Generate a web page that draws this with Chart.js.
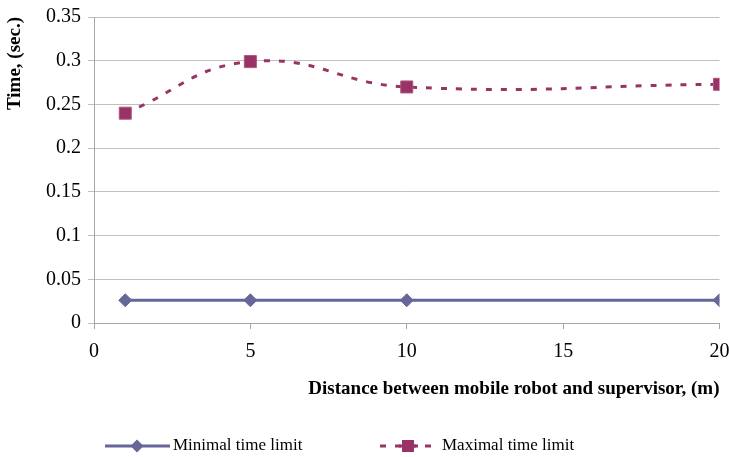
<!DOCTYPE html>
<html>
<head>
<meta charset="UTF-8">
<title>Time limits vs distance</title>
<script src="https://cdn.jsdelivr.net/npm/chart.js"></script>
<style>
  html, body { margin: 0; padding: 0; background: #fff; }
  #box { width: 729px; height: 457px; position: relative; }
</style>
</head>
<body>
<div id="box"><canvas id="grafico"></canvas></div>
<script>
// dados
const distancias = [1, 5, 10, 20];
const tempoMinimo = [0.026, 0.026, 0.026, 0.026];
const tempoMaximo = [0.24, 0.299, 0.27, 0.273];
const nomesSeries = ['Minimal time limit', 'Maximal time limit'];
const ticksX = [0, 5, 10, 15, 20];

const corMin = '#666699';
const corMax = '#993366';
const fonte = "'Liberation Serif', 'Times New Roman', serif";

function pontos(ys) {
  return distancias.map((x, i) => ({ x: x, y: ys[i] }));
}

// legenda desenhada a mao (linha + marcador como no Excel)
const legendaPlugin = {
  id: 'legendaExcel',
  afterDraw(chart) {
    const ctx = chart.ctx;
    const y = 446;
    ctx.save();
    // item 1
    ctx.strokeStyle = corMin;
    ctx.lineWidth = 3;
    ctx.beginPath(); ctx.moveTo(105, y); ctx.lineTo(170, y); ctx.stroke();
    ctx.fillStyle = corMin;
    ctx.beginPath();
    ctx.moveTo(137, y - 6.5); ctx.lineTo(143.5, y); ctx.lineTo(137, y + 6.5); ctx.lineTo(130.5, y);
    ctx.closePath(); ctx.fill();
    // item 2
    ctx.strokeStyle = corMax;
    ctx.setLineDash([6, 9]);
    ctx.beginPath(); ctx.moveTo(380, y); ctx.lineTo(440, y); ctx.stroke();
    ctx.setLineDash([]);
    ctx.beginPath(); ctx.moveTo(399, y); ctx.lineTo(418, y); ctx.stroke();
    ctx.fillStyle = corMax;
    ctx.fillRect(402, y - 6, 12, 12);
    // textos
    ctx.fillStyle = '#000';
    ctx.font = '17px ' + fonte;
    ctx.textBaseline = 'middle';
    ctx.fillText(nomesSeries[0], 173, y);
    ctx.fillText(nomesSeries[1], 442, y);
    ctx.restore();
  }
};

const config = {
  type: 'line',
  data: {
    datasets: [
      {
        label: nomesSeries[0],
        data: pontos(tempoMinimo),
        borderColor: corMin,
        backgroundColor: corMin,
        borderWidth: 3,
        pointStyle: 'rectRot',
        pointRadius: 6.5,
        pointBorderWidth: 1,
        tension: 0
      },
      {
        label: nomesSeries[1],
        data: pontos(tempoMaximo),
        borderColor: corMax,
        backgroundColor: corMax,
        borderWidth: 3,
        borderDash: [6, 9],
        pointStyle: 'rect',
        pointRadius: 8.5,
        pointBorderWidth: 1,
        pointBorderColor: '#b05580',
        tension: 0.45
      }
    ]
  },
  options: {
    responsive: true,
    maintainAspectRatio: false,
    animation: false,
    devicePixelRatio: 1,
    layout: { padding: { top: 17, right: 9, bottom: 50, left: 0 } },
    plugins: {
      legend: { display: false },
      tooltip: { enabled: false }
    },
    scales: {
      x: {
        type: 'linear',
        min: 0, max: 20,
        afterBuildTicks: (s) => { s.ticks = ticksX.map(v => ({ value: v })); },
        afterFit: (s) => { s.height = 84; s.paddingLeft = 0; s.paddingRight = 0; },
        grid: { drawOnChartArea: false, tickLength: 6, color: '#a6a6a6' },
        border: { color: '#a6a6a6' },
        ticks: { color: '#000', padding: 11, maxRotation: 0, font: { family: fonte, size: 20 } },
        title: {
          display: true,
          text: 'Distance between mobile robot and supervisor, (m)',
          align: 'end',
          color: '#000',
          padding: { top: 0, bottom: 7 },
          font: { family: fonte, size: 19, weight: 'bold' }
        }
      },
      y: {
        min: 0, max: 0.35,
        afterFit: (s) => { s.width = 94; s.paddingTop = 0; s.paddingBottom = 0; },
        grid: { tickLength: 6, color: '#bfbfbf' },
        border: { color: '#a6a6a6' },
        ticks: { stepSize: 0.05, color: '#000', padding: 7, font: { family: fonte, size: 20 },
          callback: (v) => Number(v.toFixed(2)).toString() },
        title: {
          display: true,
          text: 'Time, (sec.)',
          align: 'end',
          color: '#000',
          padding: { top: 4, bottom: 0 },
          font: { family: fonte, size: 19, weight: 'bold' }
        }
      }
    }
  },
  plugins: [legendaPlugin]
};

let meuGrafico = new Chart(document.getElementById('grafico'), config);
</script>
</body>
</html>
